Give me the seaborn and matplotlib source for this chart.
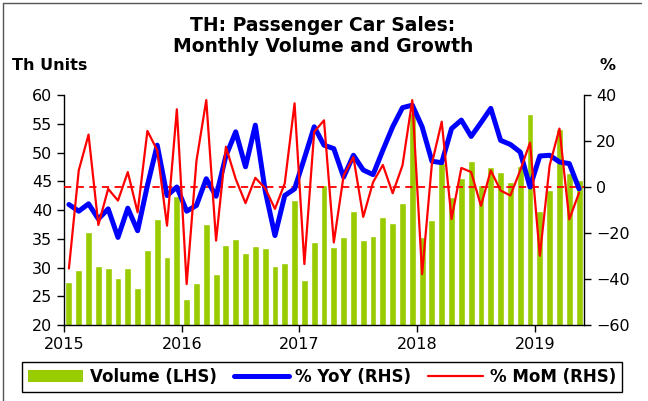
import numpy as np
import pandas as pd
import matplotlib
matplotlib.use("Agg")
import matplotlib.pyplot as plt
import seaborn as sns
from matplotlib.patches import Patch
from matplotlib.lines import Line2D
from matplotlib.transforms import ScaledTranslation

# -------------------- DATA (Jan 2015 - May 2019) --------------------
volume = [
    27.4, 29.5, 36.2, 30.2, 30.0, 28.1, 30.0, 26.5, 33.1, 38.4, 31.8, 42.5,
    24.5, 27.3, 37.6, 28.9, 34.0, 34.9, 32.5, 33.7, 33.4, 30.2, 30.7, 41.8,
    27.9, 34.4, 44.3, 33.6, 35.3, 39.9, 34.7, 35.4, 38.8, 37.7, 41.3, 56.8,
    35.3, 38.2, 48.1, 42.3, 45.6, 48.5, 44.3, 47.4, 46.7, 44.8, 47.6, 56.7,
    39.9, 43.4, 54.1, 46.5, 45.2,
]
yoy = [
    -7.6, -10.5, -7.3, -13.9, -9.5, -21.9, -9.2, -19.0, 0.7, 18.2, -3.7, 0.0,
    -10.5, -8.0, 3.6, -4.0, 13.5, 24.0, 8.8, 26.9, -1.5, -21.1, -3.7, -0.8,
    12.5, 26.2, 18.2, 16.7, 4.3, 13.8, 7.4, 5.4, 16.0, 26.2, 34.5, 35.6,
    26.2, 11.2, 10.6, 25.4, 29.1, 22.0, 28.0, 34.2, 20.3, 18.5, 15.2, 0.0,
    13.5, 13.8, 10.9, 10.2, -0.8,
]
mom = [
    -35.4, 7.2, 22.8, -16.5, -0.8, -5.9, 6.5, -11.0, 24.4, 16.0, -16.8, 33.8,
    -42.2, 11.4, 37.8, -23.3, 17.5, 3.5, -7.0, 4.0, -0.5, -9.5, 1.6, 36.4,
    -33.5, 24.0, 29.0, -24.1, 5.0, 13.0, -13.0, 2.1, 9.6, -2.7, 9.4, 37.8,
    -37.9, 10.2, 28.4, -13.9, 8.3, 6.5, -8.2, 7.2, -1.5, -3.7, 7.2, 19.3,
    -29.9, 9.4, 25.4, -14.1, -2.5,
]
year_labels = ["2015", "2016", "2017", "2018", "2019"]

GREEN = "#99CC00"
BLUE = "#0000FF"
RED = "#FF0000"

df = pd.DataFrame({"idx": np.arange(len(volume)), "volume": volume, "yoy": yoy, "mom": mom})

# -------------------- FIGURE --------------------
sns.set_style("ticks")
# wide sans font: reference text is stretched horizontally
plt.rcParams["font.family"] = ["DejaVu Sans"]
plt.rcParams["text.color"] = "black"

fig = plt.figure(figsize=(6.48, 4.01), dpi=100)
ax = fig.add_axes([0.0988, 0.1895, 0.8024, 0.5735])

sns.barplot(data=df, x="idx", y="volume", color=GREEN, saturation=1,
            width=0.7, ax=ax, zorder=1)
ax.set_xlim(-0.5, len(volume) - 0.5)
ax.set_ylim(20, 60)
ax.set_yticks(np.arange(20, 61, 5))
ax.set_xticks([-0.5 + 12 * i for i in range(len(year_labels))])
ax.set_xticklabels(year_labels)
for lab in ax.get_xticklabels():
    lab.set_transform(lab.get_transform() + ScaledTranslation(0.05, 0, fig.dpi_scale_trans))
ax.set_xlabel("")
ax.set_ylabel("")

ax2 = ax.twinx()
ax2.axhline(0, color=RED, ls=(0, (4, 3)), lw=1.3, zorder=1)
sns.lineplot(data=df, x="idx", y="yoy", color=BLUE, lw=3.6, ax=ax2, zorder=2)
sns.lineplot(data=df, x="idx", y="mom", color=RED, lw=1.6, ax=ax2, zorder=3)
ax2.set_ylim(-60, 40)
ax2.set_yticks(np.arange(-60, 41, 20))
ax2.set_xlim(-0.5, len(volume) - 0.5)
ax2.set_xlabel("")
ax2.set_ylabel("")

for a in (ax, ax2):
    a.spines["top"].set_visible(False)
    for s in a.spines.values():
        s.set_color("black")
        s.set_linewidth(1.0)
    a.tick_params(direction="out", length=5, width=1, labelsize=11.5, colors="black")
ax.spines["right"].set_visible(False)
ax2.spines["left"].set_visible(False)
ax2.spines["bottom"].set_visible(False)

# -------------------- TEXT --------------------
fig.text(0.498, 1 - 36 / 401, "TH: Passenger Car Sales:\nMonthly Volume and Growth",
         ha="center", va="center", fontsize=13.5, fontweight="bold", linespacing=1.1,
         color="black")
fig.text(12 / 648, 1 - 66 / 401, "Th Units", ha="left", va="center",
         fontsize=11.5, fontweight="bold", color="black")
fig.text(600 / 648, 1 - 66 / 401, "%", ha="left", va="center",
         fontsize=11.5, fontweight="bold", color="black")

handles = [
    Patch(facecolor=GREEN, edgecolor="none"),
    Line2D([0], [0], color=BLUE, lw=3.6),
    Line2D([0], [0], color=RED, lw=1.6),
]
labels = ["Volume (LHS)", "% YoY (RHS)", "% MoM (RHS)"]
leg = fig.legend(handles, labels, loc="center", bbox_to_anchor=(0.497, 1 - 377 / 401),
                 ncol=3, frameon=True, fancybox=False, edgecolor="black", framealpha=1,
                 prop={"weight": "bold", "size": 12}, handlelength=3.3,
                 handletextpad=0.4, columnspacing=1.0, borderpad=0.35)
leg.get_frame().set_linewidth(1.0)
for t in leg.get_texts():
    t.set_color("black")

# outer border
fig.add_artist(Line2D([3 / 648, 3 / 648], [0, 1 - 3 / 401], color="#555555", lw=1,
                      transform=fig.transFigure))
fig.add_artist(Line2D([3 / 648, 641 / 648], [1 - 3 / 401, 1 - 3 / 401], color="#555555",
                      lw=1, transform=fig.transFigure))

fig.savefig("out.png", dpi=100)
